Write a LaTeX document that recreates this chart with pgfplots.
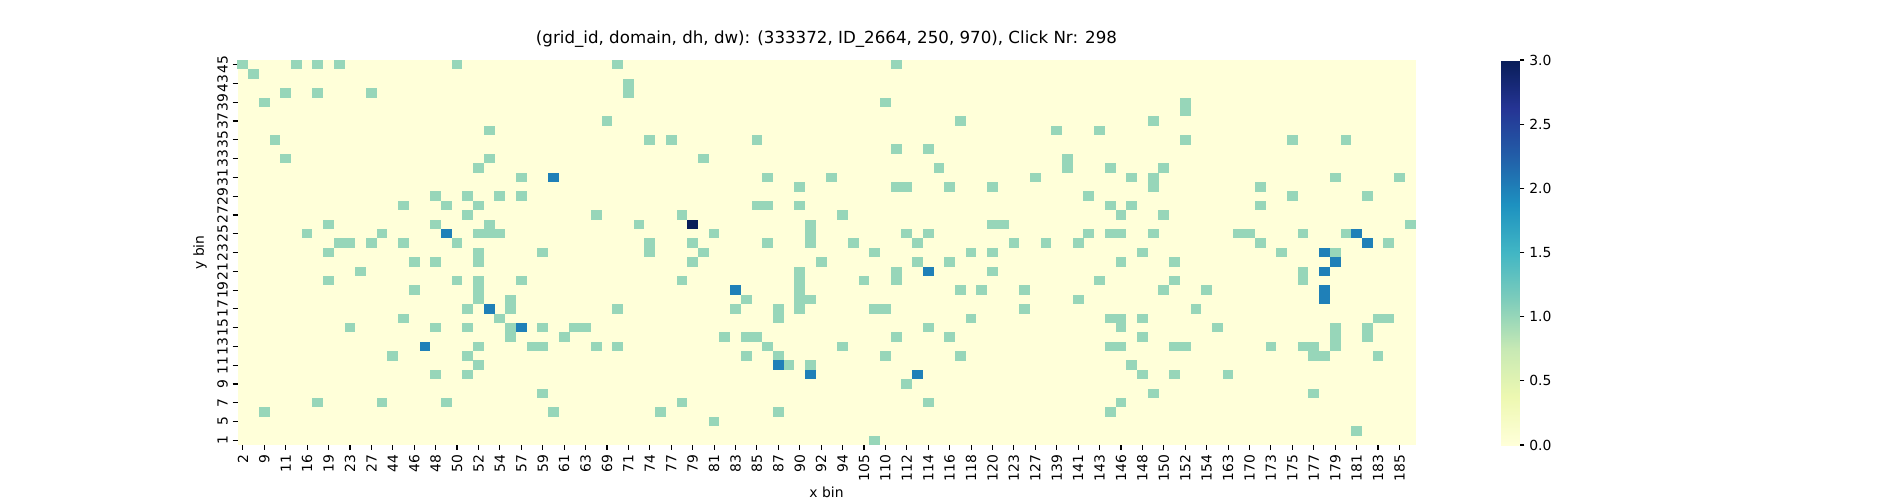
\documentclass[border=0pt]{standalone}
\usepackage{fontspec}
\setmainfont{DejaVu Sans}
\usepackage{pgfplots}
\pgfplotsset{compat=1.18}
\definecolor{cbg}{RGB}{255,255,217}
\definecolor{cone}{RGB}{151,214,185}
\definecolor{ctwo}{RGB}{31,128,184}
\definecolor{cthree}{RGB}{8,29,88}
\pgfplotsset{colormap={ylgnbu}{rgb255=(255,255,217) rgb255=(237,248,177) rgb255=(199,233,180) rgb255=(127,205,187) rgb255=(65,182,196) rgb255=(29,145,192) rgb255=(34,94,168) rgb255=(37,52,148) rgb255=(8,29,88)}}
\pgfdeclareplotmark{cell}{\pgfpathrectangle{\pgfqpoint{-3.88pt}{-3.41pt}}{\pgfqpoint{7.76pt}{6.82pt}}\pgfusepathqfill}
\begin{document}
\begin{tikzpicture}
\useasboundingbox (0,0) rectangle (1368pt,360pt);
\begin{axis}[
  at={(171pt,39.6pt)}, anchor=south west,
  scale only axis, width=848.16pt, height=277.2pt,
  xmin=-0.5, xmax=109.5, ymin=-0.5, ymax=40.5,
  y dir=reverse,
  axis background/.style={fill=cbg},
  axis line style={draw=none},
  tick pos=left, tick align=outside,
  major tick length=3.5pt,
  tick style={black, line width=0.8pt},
  xtick={0,2,...,108},
  xticklabels={2,9,11,16,19,23,27,44,46,48,50,52,54,57,59,61,63,69,71,74,77,79,81,83,85,87,90,92,94,105,110,112,114,116,118,120,123,127,139,141,143,146,148,150,152,154,163,170,173,175,177,179,181,183,185},
  ytick={0,2,...,40},
  yticklabels={45,43,39,37,35,33,31,29,27,25,23,21,19,17,15,13,11,9,7,5,1},
  xticklabel style={rotate=90, anchor=east, font=\fontsize{10}{12}\selectfont},
  yticklabel style={rotate=90, anchor=south, font=\fontsize{10}{12}\selectfont},
  xlabel={x bin}, ylabel={y bin},
  xlabel style={at={(axis description cs:0.5,0)}, anchor=center, yshift=-33.8pt, font=\fontsize{10}{12}\selectfont},
  ylabel style={at={(axis description cs:0,0.5)}, anchor=center, rotate=0, yshift=27pt, font=\fontsize{10}{12}\selectfont},
  title={(grid\_id, domain, dh, dw): (333372, ID\_2664, 250, 970), Click Nr: 298},
  title style={at={(axis description cs:0.5,1)}, anchor=base, yshift=6pt, font=\fontsize{12}{14}\selectfont},
  colormap name=ylgnbu,
  point meta min=0, point meta max=3,
  colorbar,
  colorbar style={
    at={(parent axis.south east)}, anchor=south west, xshift=53.1pt,
    scale only axis, width=13.26pt, height=277.2pt,
    axis line style={draw=none},
    ytick={0,0.5,...,3},
    ytick pos=right, yticklabel pos=right,
    tick align=outside, major tick length=3.5pt,
    tick style={black, line width=0.8pt},
    yticklabel style={font=\fontsize{10}{12}\selectfont, /pgf/number format/.cd, fixed, fixed zerofill, precision=1, assume math mode=true},
  },
]
\addplot[only marks, mark=cell, color=cone, mark options={fill=cone, draw=none}] coordinates {
(0,0) (1,1) (5,0) (7,0) (9,0) (4,3) (7,3) (2,4) (3,8) (4,10) (8,17) (6,18) (9,19) (10,19) (8,20) (11,22) (8,23) (10,28)
(20,0) (12,3) (23,7) (23,10) (22,11) (26,12) (18,14) (21,14) (24,14) (26,14) (15,15) (19,15) (22,15) (21,16) (18,17) (23,17) (13,18) (22,18) (23,18) (24,18) (12,19) (15,19) (20,19) (22,20) (16,21) (18,21) (22,21) (20,23) (22,23) (26,23) (16,24) (22,24) (22,25) (25,25) (21,26) (25,26) (15,27) (24,27) (18,28) (21,28) (25,28) (25,29) (22,30) (27,30) (14,31) (21,31) (22,32) (18,33) (21,33)
(35,0) (36,2) (36,3) (34,6) (38,8) (40,8) (43,10) (33,16) (41,16) (37,17) (38,19) (42,19) (28,20) (38,20) (43,20) (42,21) (41,23) (35,26) (28,28) (31,28) (32,28) (30,29) (28,30) (33,30) (35,30)
(48,8) (49,12) (55,12) (52,13) (48,15) (49,15) (52,15) (56,16) (53,17) (53,18) (53,19) (44,18) (49,19) (57,19) (59,20) (54,21) (52,22) (52,23) (52,24) (52,25) (52,26) (58,23) (47,25) (53,25) (46,26) (50,26) (59,26) (50,27) (45,29) (47,29) (48,29) (49,30) (56,30) (47,31) (50,31) (51,32) (53,32) (50,37) (44,38) (59,40)
(61,0) (60,4) (67,6) (61,9) (64,9) (65,11) (74,12) (61,13) (62,13) (66,13) (70,13) (70,17) (71,17) (62,18) (64,18) (63,19) (72,19) (75,19) (68,20) (70,20) (63,21) (66,21) (61,22) (61,23) (70,22) (67,24) (69,24) (73,24) (60,26) (73,26) (68,27) (64,28) (61,29) (66,29) (60,31) (67,31) (62,34) (64,36)
(88,4) (88,5) (85,6) (76,7) (80,7) (88,8) (77,10) (77,11) (81,11) (86,11) (83,12) (85,12) (85,13) (79,14) (81,15) (83,15) (82,16) (86,16) (79,18) (81,18) (82,18) (85,18) (78,19) (84,20) (82,21) (87,21) (80,23) (87,23) (86,24) (90,24) (78,25) (89,26) (81,27) (82,27) (84,27) (82,28) (91,28) (84,29) (81,30) (82,30) (87,30) (88,30) (83,32) (84,33) (87,33) (92,33) (85,35) (82,36) (81,37)
(98,8) (103,8) (102,12) (108,12) (95,13) (98,14) (105,14) (95,15) (109,17) (93,18) (94,18) (99,18) (103,18) (95,19) (107,19) (97,20) (102,20) (99,22) (99,23) (106,27) (107,27) (102,28) (102,29) (102,30) (105,28) (105,29) (96,30) (99,30) (100,30) (100,31) (101,31) (106,31) (100,35) (104,39)
(28,35) (7,36) (13,36) (19,36) (41,36) (2,37) (29,37) (39,37)
};
\addplot[only marks, mark=cell, color=ctwo, mark options={fill=ctwo, draw=none}] coordinates {
(19,18) (23,26) (26,28) (17,30) (29,12) (46,24) (50,32) (53,33) (64,22) (63,33) (104,18) (105,19) (101,20) (102,21) (101,22) (101,24) (101,25)
};
\addplot[only marks, mark=cell, color=cthree, mark options={fill=cthree, draw=none}] coordinates {
(42,17)
};
\end{axis}
\end{tikzpicture}
\end{document}
